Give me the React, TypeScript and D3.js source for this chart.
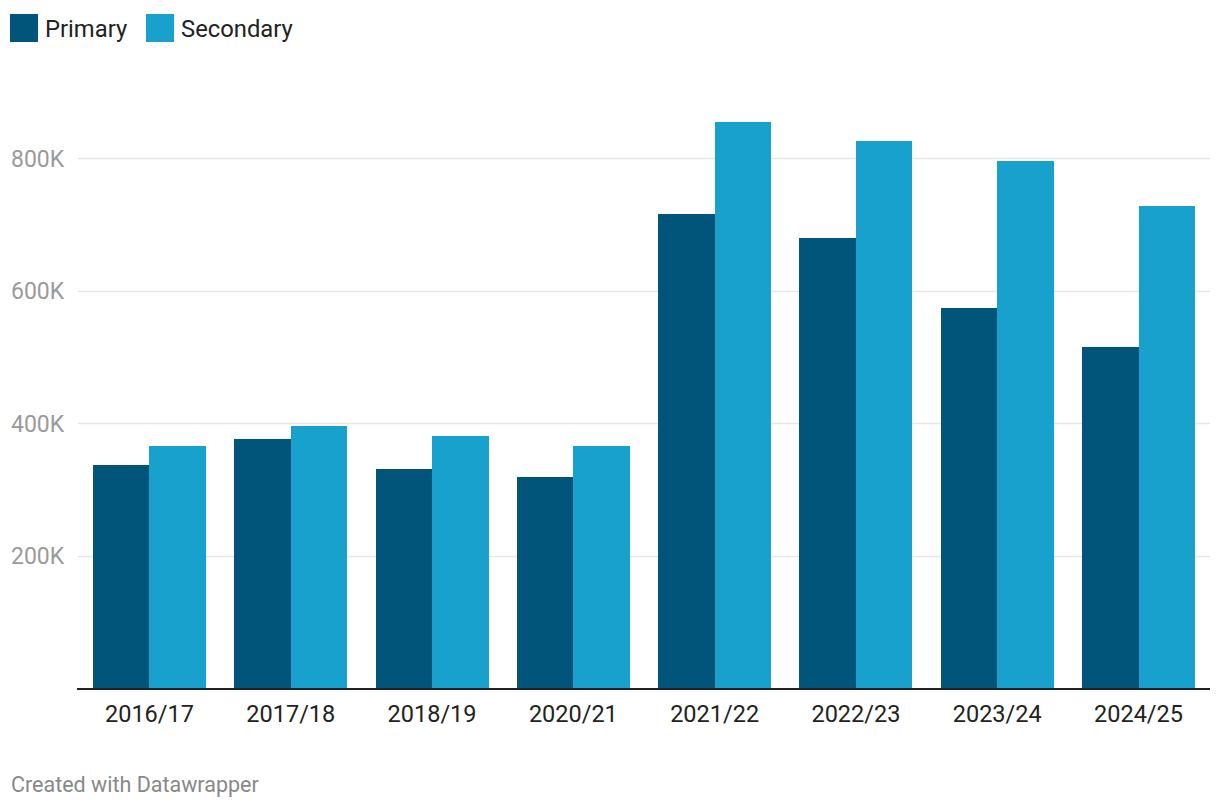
import React from "react";
import * as d3 from "d3";

const categories = ["2016/17", "2017/18", "2018/19", "2020/21", "2021/22", "2022/23", "2023/24", "2024/25"];
const primary = [337000, 376000, 331000, 318000, 715000, 680000, 573000, 515000];
const secondary = [366000, 396000, 381000, 366000, 854000, 826000, 796000, 728000];
const seriesNames = ["Primary", "Secondary"];
const colors = ["#01557b", "#19a1ce"];
const yTicks = [200000, 400000, 600000, 800000];

export default function App() {
  const W = 1220, H = 810;
  const x = d3.scaleBand<string>().domain(categories).range([78, 1210]).paddingInner(0.2).paddingOuter(0.106);
  const xs = d3.scaleBand<string>().domain(seriesNames).range([0, x.bandwidth()]);
  const y = d3.scaleLinear().domain([0, 800000]).range([688, 158]);
  const series = [primary, secondary];
  const font = "Roboto, 'Noto Sans', sans-serif";
  return (
    <svg width={W} height={H} style={{ position: "absolute", left: 0, top: 0, background: "#fff" }} fontFamily={font}>
      {/* legend */}
      {seriesNames.map((n, i) => {
        const lx = i === 0 ? 10 : 146;
        return (
          <g key={n}>
            <rect x={lx} y={14} width={28} height={28} fill={colors[i]} />
            <text x={lx + 35} y={36.5} fontSize={23.8} fill="#222">{n}</text>
          </g>
        );
      })}
      {/* grid */}
      {yTicks.map((t) => (
        <g key={t}>
          <line x1={78} x2={1210} y1={Math.round(y(t)) + 0.5} y2={Math.round(y(t)) + 0.5} stroke="#e6e6e6" strokeWidth={1.5} />
          <text x={11} y={y(t) + 8.5} fontSize={23} fill="#9a9a9a">{d3.format("~s")(t).replace("k", "K")}</text>
        </g>
      ))}
      {/* bars */}
      {categories.map((c, ci) => (
        <g key={c} transform={`translate(${x(c)},0)`} shapeRendering="crispEdges">
          {series.map((s, si) => (
            <rect key={si} x={xs(seriesNames[si])} width={xs.bandwidth()} y={y(s[ci])} height={y(0) - y(s[ci])} fill={colors[si]} />
          ))}
        </g>
      ))}
      <line x1={77} x2={1210} y1={689} y2={689} stroke="#222" strokeWidth={2} />
      {categories.map((c) => (
        <text key={c} x={(x(c) as number) + x.bandwidth() / 2} y={721.5} fontSize={23.5} fill="#222" textAnchor="middle">{c}</text>
      ))}
      <text x={11} y={792} fontSize={21.5} fill="#888">Created with Datawrapper</text>
    </svg>
  );
}
